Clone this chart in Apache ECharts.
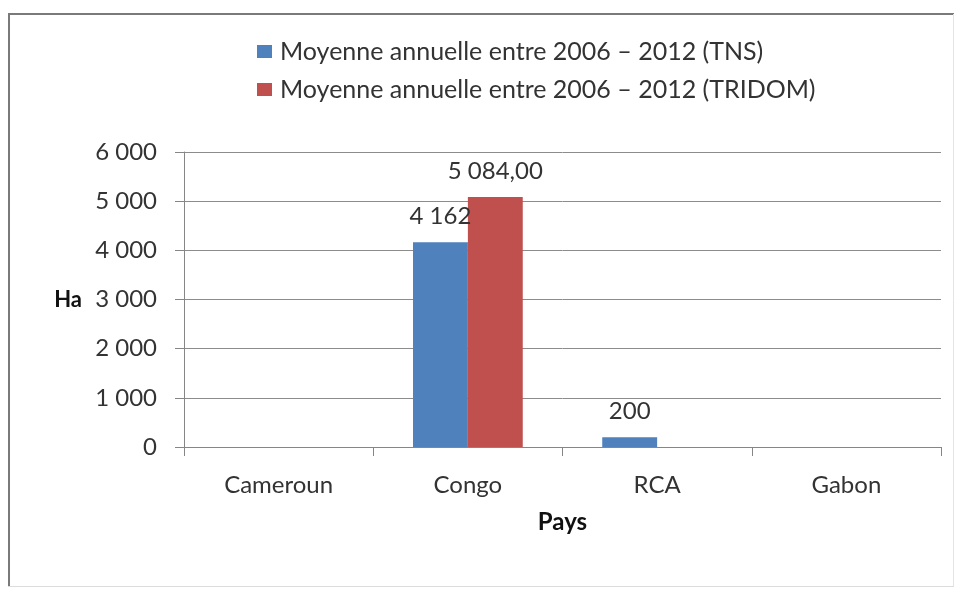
<!DOCTYPE html>
<html>
<head>
<meta charset="utf-8">
<script src="https://cdn.jsdelivr.net/npm/echarts@6/dist/echarts.min.js"></script>
<style>html,body{margin:0;padding:0;background:#fff}#c{width:958px;height:589px}</style>
</head>
<body>
<div id="c"></div>
<script>
const categories = ['Cameroun', 'Congo', 'RCA', 'Gabon'];
const seriesNames = ['Moyenne annuelle entre 2006 – 2012 (TNS)', 'Moyenne annuelle entre 2006 – 2012 (TRIDOM)'];
const tnsValues = [null, 4162, 200, null];
const tridomValues = [null, 5084, null, null];
const yTicks = [0, 1000, 2000, 3000, 4000, 5000, 6000];

const FONT = 'Lato';
const TXT = '#333333';
function sp(v) { return String(v).replace(/\B(?=(\d{3})+(?!\d))/g, ' '); }
function dec(v) { const p = v.toFixed(2).split('.'); return sp(p[0]) + ',' + p[1]; }

const chart = echarts.init(document.getElementById('c'), null, {renderer: 'canvas'});
chart.setOption({
  animation: false,
  backgroundColor: '#ffffff',
  textStyle: {fontFamily: FONT, color: TXT},
  graphic: [
    {type: 'line', shape: {x1: 8, y1: 14, x2: 954, y2: 14}, style: {stroke: '#7a7a7a', lineWidth: 2}},
    {type: 'line', shape: {x1: 9, y1: 13, x2: 9, y2: 587}, style: {stroke: '#7a7a7a', lineWidth: 2}},
    {type: 'line', shape: {x1: 953.5, y1: 14, x2: 953.5, y2: 587}, style: {stroke: '#e4e4e4', lineWidth: 1}},
    {type: 'line', shape: {x1: 8, y1: 586.5, x2: 954, y2: 586.5}, style: {stroke: '#dcdcdc', lineWidth: 1}}
  ],
  legend: {
    orient: 'vertical',
    left: 252,
    top: 34,
    itemWidth: 15,
    itemHeight: 13,
    itemGap: 13,
    icon: 'rect',
    textStyle: {fontFamily: FONT, fontSize: 25, color: TXT, padding: [0, 0, 0, 3]},
    data: seriesNames
  },
  grid: {left: 184, right: 17, top: 152, bottom: 142, containLabel: false},
  xAxis: {
    type: 'category',
    data: categories,
    axisLine: {lineStyle: {color: '#868686', width: 1}},
    axisTick: {show: true, length: 9, lineStyle: {color: '#868686'}},
    axisLabel: {fontFamily: FONT, fontSize: 24, color: TXT, margin: 26},
    name: 'Pays',
    nameLocation: 'middle',
    nameGap: 63,
    nameTextStyle: {fontFamily: FONT, fontSize: 24, fontWeight: 'bold', color: '#111'}
  },
  yAxis: {
    type: 'value',
    min: 0, max: 6000, interval: 1000,
    axisLine: {show: true, lineStyle: {color: '#868686', width: 1}},
    axisTick: {show: true, length: 9, lineStyle: {color: '#868686'}},
    splitLine: {lineStyle: {color: '#8c8c8c', width: 1}},
    axisLabel: {fontFamily: FONT, fontSize: 24, color: TXT, margin: 27, formatter: v => yTicks.includes(v) ? sp(v) : ''},
    name: 'Ha',
    nameLocation: 'middle',
    nameRotate: 0,
    nameGap: 102,
    nameTextStyle: {fontFamily: FONT, fontSize: 22, fontWeight: 'bold', color: '#111'}
  },
  series: [
    {
      name: seriesNames[0], type: 'bar', data: tnsValues,
      barGap: '0%', barCategoryGap: '42%',
      itemStyle: {color: '#4f81bd'},
      label: {show: true, position: 'top', distance: 14, fontFamily: FONT, fontSize: 24, color: TXT,
        formatter: p => p.value == null ? '' : sp(p.value)}
    },
    {
      name: seriesNames[1], type: 'bar', data: tridomValues,
      barGap: '0%', barCategoryGap: '42%',
      itemStyle: {color: '#c0504d'},
      label: {show: true, position: 'top', distance: 14, fontFamily: FONT, fontSize: 24, color: TXT,
        formatter: p => p.value == null ? '' : dec(p.value)}
    }
  ]
});
</script>
</body>
</html>
